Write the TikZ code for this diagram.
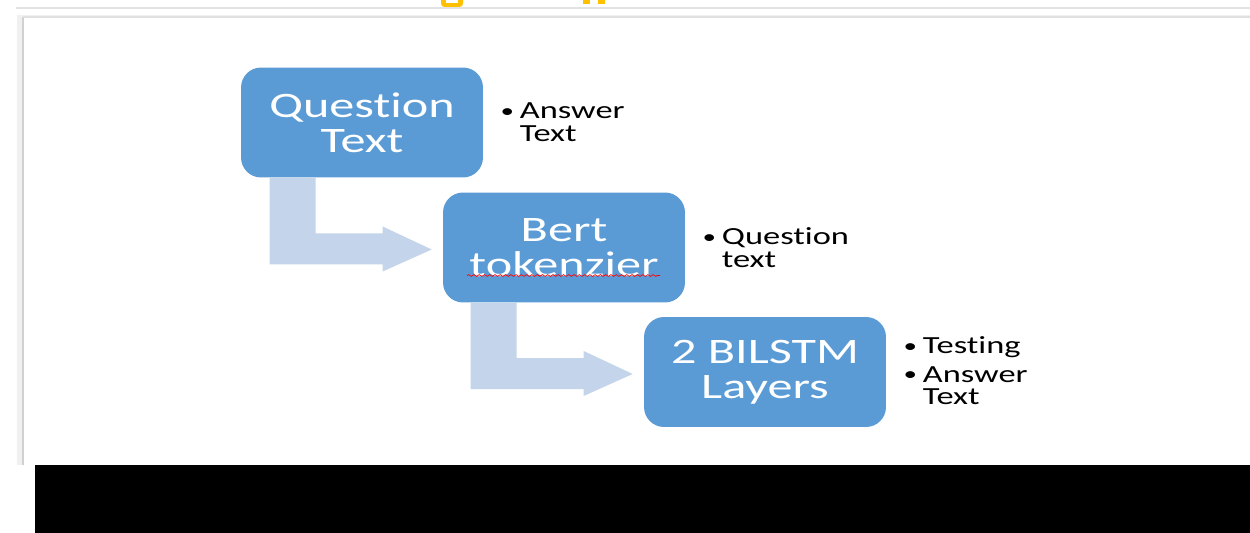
\documentclass[tikz,border=0pt]{standalone}
\usepackage{fontspec}
\setmainfont{Carlito}[FakeStretch=1.4,Ligatures=NoCommon]
\usetikzlibrary{calc,decorations.pathmorphing}
\definecolor{boxblue}{HTML}{5B9BD5}
\definecolor{flowblue}{HTML}{C4D5EB}
\definecolor{paneline}{HTML}{E2E2E2}
\definecolor{ribbon}{HTML}{FFC000}
\newcommand\itm[1]{\makebox[11.5pt][l]{\hspace{0.5pt}\raisebox{0.6pt}{\fontsize{11}{11}\selectfont\textbullet}}#1}
\newcommand\cnt[1]{\hspace*{11.5pt}#1}

\begin{document}
\begin{tikzpicture}[x=0.02cm,y=-0.02cm,
	stage/.style={fill=boxblue,rounded corners=0.4cm,minimum width=4.84cm,minimum height=2.2cm,
		text=white,align=center,inner sep=0pt,font=\fontsize{20.4}{19.8}\selectfont},
	notes/.style={anchor=west,align=left,inner sep=0pt,font=\fontsize{14}{13}\selectfont},
	flow/.style={fill=flowblue}]
	\useasboundingbox (0,0) rectangle (1250,533);
	\fill[white] (0,0) rectangle (1250,533);

	\fill[ribbon,rounded corners=2pt] (441,-3) rectangle (463,7);
	\fill[white] (446,-3) rectangle (458,3);
	\fill[ribbon] (583,0) rectangle (590,4);
	\fill[ribbon] (598,0) rectangle (605,4);
	\fill[paneline] (16,7.5) rectangle (1250,9);
	\fill[black!6] (17,15) rectangle (1250,17);
	\fill[black!6] (17,15) rectangle (23,465);
	\draw[black!18,line width=0.6pt] (23,17) -- (23,465);
	\draw[black!12,line width=0.6pt] (23,17) -- (1250,17);
	\fill[black] (35,465) rectangle (1250,533);

	\node[stage] (q) at (362,122.5) {Question\\Text};
	\node[stage] (b) at (564,247.5) {Bert\\tokenzier};
	\node[stage] (l) at (765,372) {2 BILSTM\\Layers};

	\fill[flow] ($(q.south west)+(29,0)$) -- ($(q.south west)+(75,0)$) |- ($(b.west)+(-60,-14)$)
		-- ($(b.west)+(-60,-21)$) -- ($(b.west)+(-11,2)$) -- ($(b.west)+(-60,24)$)
		-- ($(b.west)+(-60,17)$) -| ($(q.south west)+(29,0)$) -- cycle;
	\fill[flow] ($(b.south west)+(28,0)$) -- ($(b.south west)+(74,0)$) |- ($(l.west)+(-60,-14)$)
		-- ($(l.west)+(-60,-21)$) -- ($(l.west)+(-11,2)$) -- ($(l.west)+(-60,24)$)
		-- ($(l.west)+(-60,17)$) -| ($(b.south west)+(28,0)$) -- cycle;

	\draw[red,line width=0.4pt,decorate,decoration={snake,segment length=3pt,amplitude=0.5pt}]
		($(b.center)+(-97,28)$) -- ($(b.center)+(96,28)$);

	\node[notes] (qn) at ($(q.east)+(16,0)$) {\itm{Answer}\\\cnt{Text}};
	\node[notes] (bn) at ($(b.east)+(16,0)$) {\itm{Question}\\\cnt{text}};
	\node[notes] (ln) at ($(l.east)+(16,-1)$) {\itm{Testing}\\[3pt]\itm{Answer}\\\cnt{Text}};
\end{tikzpicture}
\end{document}
